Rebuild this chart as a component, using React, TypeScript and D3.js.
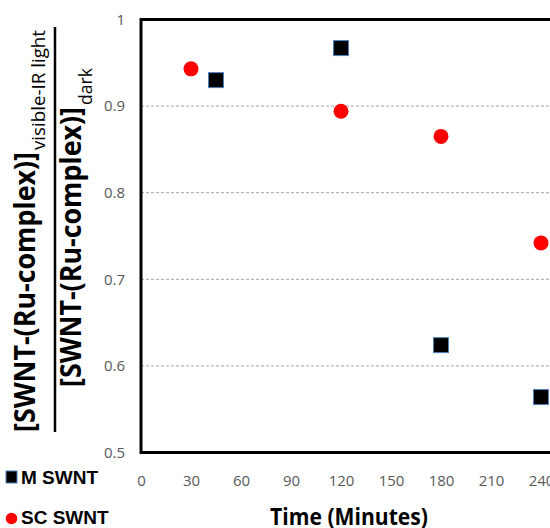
import React, { useRef, useEffect } from "react";
import * as d3 from "d3";

// time in minutes, ratio light/dark
const mTimes = [45, 120, 180, 240];
const mValues = [0.93, 0.967, 0.624, 0.564];
const scTimes = [30, 120, 180, 240];
const scValues = [0.943, 0.894, 0.865, 0.742];

const xTicks = [0, 30, 60, 90, 120, 150, 180, 210, 240];
const yTicks = [0.5, 0.6, 0.7, 0.8, 0.9, 1];
const gridValues = [0.6, 0.7, 0.8, 0.9];

const legendNames = ["M SWNT", "SC SWNT"];

const W = 550;
const H = 528;
const font = "'Open Sans', 'Noto Sans', sans-serif";

// rotated label piece: starts at (cx, yStart) and reads upward
const addRotated = (svg, cx, yStart, len, size, weight, str) => {
    svg.append("text")
        .attr("transform", `translate(${cx},${yStart}) rotate(-90)`)
        .attr("textLength", len)
        .attr("lengthAdjust", "spacingAndGlyphs")
        .style("font-family", font)
        .style("font-weight", weight)
        .style("font-size", size + "px")
        .text(str);
};

const App = () => {
    const ref = useRef<SVGSVGElement>(null);

    useEffect(() => {
        const svg = d3.select(ref.current);
        svg.selectAll("*").remove();

        const x = d3.scaleLinear().domain([0, 270]).range([141, 591]);
        const y = d3.scaleLinear().domain([0.5, 1]).range([452.5, 19.5]);

        // dashed gridlines
        svg.append("g")
            .selectAll("line")
            .data(gridValues)
            .join("line")
            .attr("x1", x(0))
            .attr("x2", x(270))
            .attr("y1", d => y(d))
            .attr("y2", d => y(d))
            .attr("stroke", "#a6a6a6")
            .attr("stroke-width", 1)
            .attr("stroke-dasharray", "3,2");

        // plot frame
        svg.append("rect")
            .attr("x", x(0))
            .attr("y", y(1))
            .attr("width", x(270) - x(0))
            .attr("height", y(0.5) - y(1))
            .attr("fill", "none")
            .attr("stroke", "black")
            .attr("stroke-width", 3);

        // y axis labels
        const yAxis = svg.append("g")
            .attr("transform", `translate(${x(0)},0)`)
            .call(d3.axisLeft(y).tickValues(yTicks).tickSize(0).tickPadding(16)
                .tickFormat(d => (+d === 1 ? "1" : (+d).toFixed(1))));
        yAxis.select(".domain").remove();
        yAxis.selectAll("text")
            .attr("fill", "#595959")
            .style("font-family", font)
            .style("font-size", "15px");

        // x axis labels
        const xAxis = svg.append("g")
            .attr("transform", `translate(0,${y(0.5)})`)
            .call(d3.axisBottom(x).tickValues(xTicks).tickSize(0).tickPadding(23));
        xAxis.select(".domain").remove();
        xAxis.selectAll("text")
            .attr("fill", "#595959")
            .style("font-family", font)
            .style("font-size", "15px");

        // SC SWNT circles
        svg.append("g")
            .selectAll("circle")
            .data(scTimes)
            .join("circle")
            .attr("cx", d => x(d))
            .attr("cy", (d, i) => y(scValues[i]))
            .attr("r", 7.5)
            .attr("fill", "#ff0000");

        // M SWNT squares
        const s = 15;
        svg.append("g")
            .selectAll("rect")
            .data(mTimes)
            .join("rect")
            .attr("x", d => x(d) - s / 2)
            .attr("y", (d, i) => y(mValues[i]) - s / 2)
            .attr("width", s)
            .attr("height", s)
            .attr("fill", "black")
            .attr("stroke", "#4f81bd")
            .attr("stroke-width", 1);

        // x title
        svg.append("text")
            .attr("x", 349)
            .attr("y", 525)
            .attr("text-anchor", "middle")
            .attr("textLength", 158)
            .attr("lengthAdjust", "spacingAndGlyphs")
            .style("font-family", font)
            .style("font-weight", "bold")
            .style("font-size", "23px")
            .text("Time (Minutes)");

        // y title as a fraction
        addRotated(svg, 35, 432, 280, 28, "bold", "[SWNT-(Ru-complex)]");
        addRotated(svg, 45, 150, 120, 19, "normal", "visible-IR light");

        svg.append("line")
            .attr("x1", 55).attr("x2", 55)
            .attr("y1", 27).attr("y2", 432)
            .attr("stroke", "black")
            .attr("stroke-width", 2.5);

        addRotated(svg, 81, 387, 280, 28, "bold", "[SWNT-(Ru-complex)]");
        addRotated(svg, 92, 105, 37, 19, "normal", "dark");

        // legend
        const legend = svg.append("g");
        legend.append("rect")
            .attr("x", 6).attr("y", 471)
            .attr("width", 11).attr("height", 12)
            .attr("fill", "black")
            .attr("stroke", "#4f81bd")
            .attr("stroke-width", 1);
        legend.append("circle")
            .attr("cx", 11.5).attr("cy", 518.5)
            .attr("r", 5.8)
            .attr("fill", "#ff0000");
        legend.selectAll("text.lg")
            .data(legendNames)
            .join("text")
            .attr("class", "lg")
            .attr("x", 21)
            .attr("y", (d, i) => 483.5 + i * 40.5)
            .style("font-family", "'Liberation Sans', Arial, sans-serif")
            .style("font-weight", "bold")
            .style("font-size", "19px")
            .text(d => d);
    }, []);

    return (
        <svg
            ref={ref}
            width={W}
            height={H}
            style={{ position: "absolute", left: 0, top: 0, background: "white" }}
        />
    );
};

export default App;
